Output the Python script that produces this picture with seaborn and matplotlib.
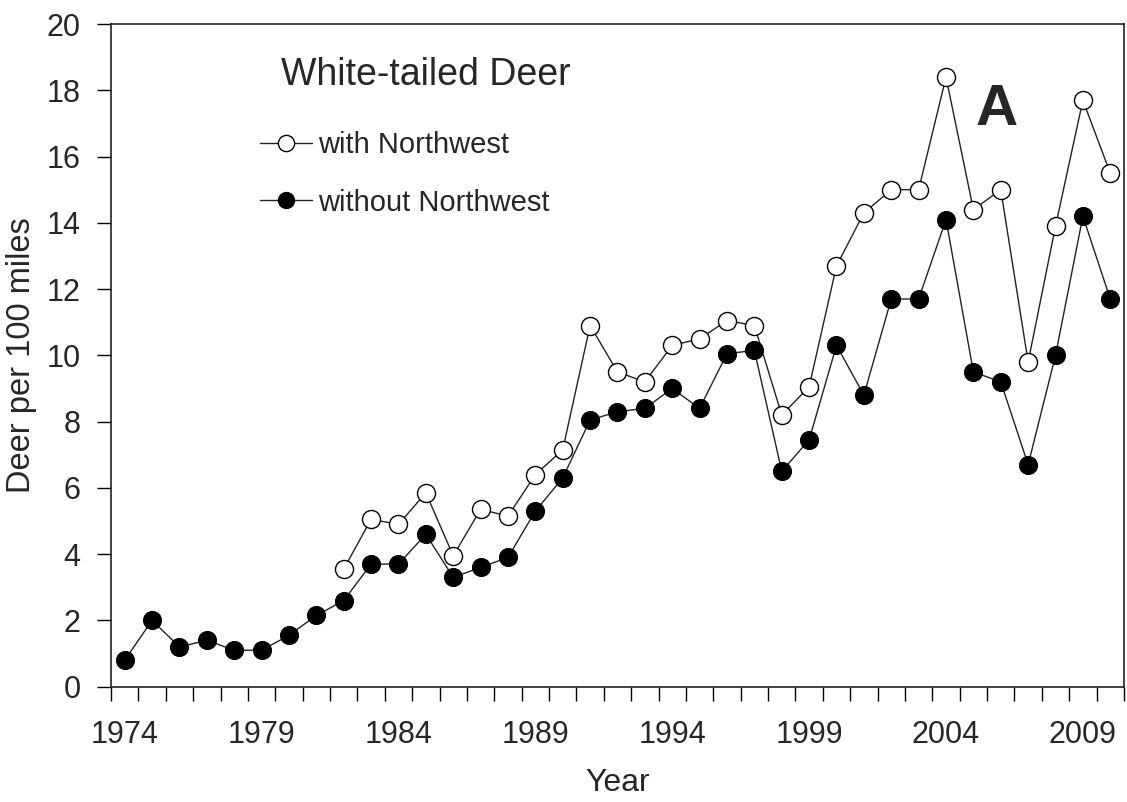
import numpy as np
import pandas as pd
import seaborn as sns
from matplotlib import pyplot as plt
from matplotlib.ticker import FixedLocator

# data
years_without = list(range(1974, 2011))
without_nw = [0.8, 2.0, 1.2, 1.4, 1.1, 1.1, 1.55, 2.15, 2.6, 3.7,
              3.7, 4.6, 3.3, 3.6, 3.9, 5.3, 6.3, 8.05, 8.3, 8.4,
              9.0, 8.4, 10.05, 10.15, 6.5, 7.45, 10.3, 8.8, 11.7, 11.7,
              14.1, 9.5, 9.2, 6.7, 10.0, 14.2, 11.7]

years_with = list(range(1982, 2011))
with_nw = [3.55, 5.05, 4.9, 5.85, 3.95, 5.35, 5.15, 6.4, 7.15, 10.9,
           9.5, 9.2, 10.3, 10.5, 11.05, 10.9, 8.2, 9.05, 12.7, 14.3,
           15.0, 15.0, 18.4, 14.4, 15.0, 9.8, 13.9, 17.7, 15.5]

year_labels = list(range(1974, 2011, 5))

df_without = pd.DataFrame({"Year": years_without, "Deer": without_nw})
df_with = pd.DataFrame({"Year": years_with, "Deer": with_nw})

sns.set_style("white")
plt.rcParams["font.family"] = ["Liberation Sans", "DejaVu Sans"]

fig = plt.figure(figsize=(11.27, 8.02), dpi=100)
ax = fig.add_axes([0.0985, 0.1438, 0.8988, 0.8262])

line_col = "#222222"
sns.lineplot(data=df_with, x="Year", y="Deer", ax=ax, color=line_col,
             linewidth=1.0, marker="o", markersize=13,
             markerfacecolor="white", markeredgecolor="black",
             markeredgewidth=1.0, label="with Northwest")
sns.lineplot(data=df_without, x="Year", y="Deer", ax=ax, color=line_col,
             linewidth=1.0, marker="o", markersize=13,
             markerfacecolor="black", markeredgecolor="black",
             label="without Northwest")

ax.set_xlim(1973.5, 2010.5)
ax.set_ylim(0, 20)
ax.set_yticks(np.arange(0, 21, 2))
ax.set_xticks(year_labels)
ax.xaxis.set_minor_locator(FixedLocator(np.arange(1973.5, 2011, 1)))
ax.tick_params(axis="x", which="major", length=0, pad=24, labelsize=22)
ax.tick_params(axis="x", which="minor", length=10, width=1.0,
               direction="out", bottom=True, color="black")
ax.tick_params(axis="y", which="major", length=10, width=1.0,
               direction="out", left=True, pad=12, labelsize=22,
               color="black")

for s in ax.spines.values():
    s.set_visible(True)
    s.set_color("#222222")
    s.set_linewidth(1.2)

ax.set_xlabel("Year", fontsize=23)
ax.set_ylabel("Deer per 100 miles", fontsize=23.5)
ax.xaxis.set_label_coords(0.5, -0.122)
ax.yaxis.set_label_coords(-0.073, 0.5)

ax.text(0.168, 0.923, "White-tailed Deer", transform=ax.transAxes,
        fontsize=27, ha="left", va="center")
ax.text(0.874, 0.870, "A", transform=ax.transAxes, fontsize=42,
        fontweight="bold", ha="center", va="center")

ax.legend(loc="upper left", bbox_to_anchor=(0.147, 0.838), frameon=False,
          fontsize=21, handlelength=1.8, handletextpad=0.2,
          labelspacing=1.0, borderpad=0, borderaxespad=0, markerscale=0.9)

plt.savefig("out.png", dpi=100)
plt.close()
